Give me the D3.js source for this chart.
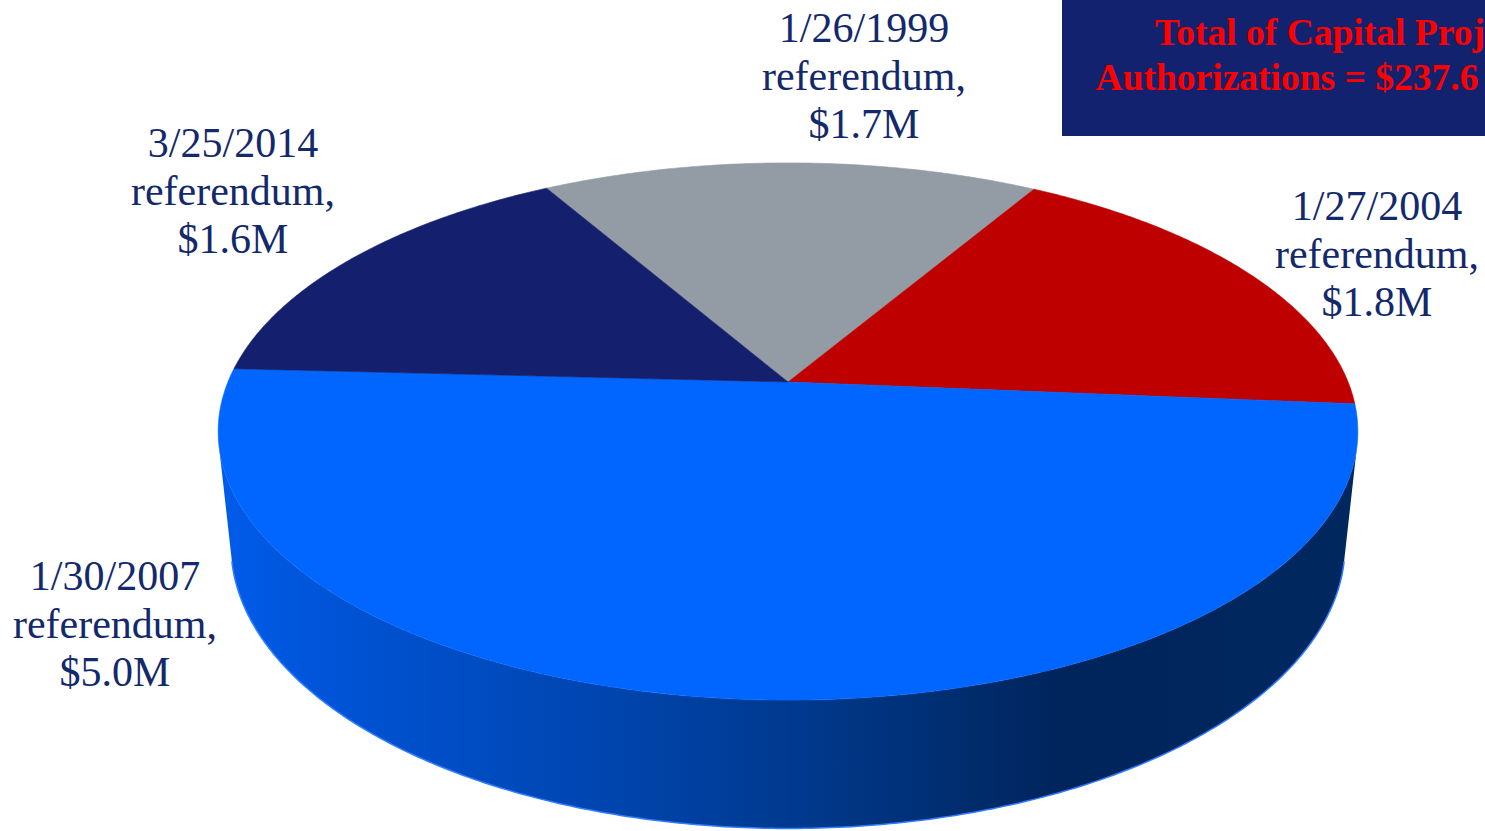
<!DOCTYPE html>
<html>
<head>
<meta charset="utf-8">
<script src="https://cdn.jsdelivr.net/npm/d3@7/dist/d3.min.js"></script>
<style>
html,body{margin:0;padding:0;background:#fff;overflow:hidden;}
svg{display:block;}
</style>
</head>
<body>
<svg id="chart" width="1485" height="831"></svg>
<script>
// ---- data ----
const categories = ["1/26/1999 referendum", "1/27/2004 referendum", "1/30/2007 referendum", "3/25/2014 referendum"];
const labelDates = ["1/26/1999", "1/27/2004", "1/30/2007", "3/25/2014"];
const values = [1.7, 1.8, 5.0, 1.6];
const valueLabels = ["$1.7M", "$1.8M", "$5.0M", "$1.6M"];
const titleLines = ["Total of Capital Projects", "Authorizations = $237.6 Million"];

// ---- styles / layout ----
const topColors = ["#939CA4", "#BE0000", "#0066FF", "#14206E"];
const sideColors = ["#6E767E", "#8A0000", "url(#blueSide)", "#0C154E"];
const labelColor = "#13296B";
const labelPos = [ {x:864, y:42}, {x:1377, y:220}, {x:115, y:590}, {x:233, y:157} ];

const svg = d3.select("#chart");
const W = 1485, H = 831;

// perspective camera
const cx = 788, cy = 382;
const alpha = 27.6 * Math.PI / 180;
const sA = Math.sin(alpha), cA = Math.cos(alpha);
const D = 4.81, F = 2694, thick = 0.231;
function proj(theta, h) {
  const x = Math.sin(theta), y = Math.cos(theta);
  const depth = y * cA - h * sA + D;
  const up = y * sA + h * cA;
  return [cx + F * x / depth, cy - F * up / depth];
}

const defs = svg.append("defs");
const grad = defs.append("linearGradient").attr("id", "blueSide")
  .attr("gradientUnits", "userSpaceOnUse").attr("x1", 218).attr("x2", 1360).attr("y1", 0).attr("y2", 0);
[[0, "#005CEA"], [0.12, "#0052D2"], [0.32, "#0046B2"], [0.5, "#003A90"], [0.66, "#002C6C"], [0.74, "#00245C"], [1, "#00285F"]]
  .forEach(s => grad.append("stop").attr("offset", s[0]).attr("stop-color", s[1]));

const startAngle = -30 * Math.PI / 180;
const pie = d3.pie().sort(null).value(d => d).startAngle(startAngle).endAngle(startAngle + 2 * Math.PI);
const arcs = pie(values);

// visible wall range
const visA = Math.acos(-1 / (D * cA));
const visB = 2 * Math.PI - visA;

function sample(a0, a1, h) {
  const n = Math.max(2, Math.ceil(Math.abs(a1 - a0) / 0.01));
  const pts = [];
  for (let i = 0; i <= n; i++) pts.push(proj(a0 + (a1 - a0) * i / n, h));
  return pts;
}

// walls
const wallG = svg.append("g");
arcs.forEach((a, i) => {
  [0, 2 * Math.PI, -2 * Math.PI].forEach(off => {
    const a0 = Math.max(a.startAngle + off, visA);
    const a1 = Math.min(a.endAngle + off, visB);
    if (a1 > a0) {
      const topPts = sample(a0, a1, 0);
      const botPts = sample(a1, a0, -thick);
      wallG.append("path")
        .attr("d", "M" + topPts.concat(botPts).map(p => p.join(",")).join("L") + "Z")
        .attr("fill", sideColors[i]);
      wallG.append("path")
        .attr("d", "M" + sample(a0, a1, -thick).map(p => p.join(",")).join("L"))
        .attr("fill", "none").attr("stroke", "#2F7CFF").attr("stroke-width", 1.5);
    }
  });
});

// top faces
const topG = svg.append("g");
arcs.forEach((a, i) => {
  const pts = [[cx, cy]].concat(sample(a.startAngle, a.endAngle, 0));
  topG.append("path")
    .attr("d", "M" + pts.map(p => p.join(",")).join("L") + "Z")
    .attr("fill", topColors[i])
    .attr("stroke", topColors[i]).attr("stroke-width", 0.6);
});

// labels
const lab = svg.append("g")
  .attr("font-family", "'Liberation Serif', 'Times New Roman', serif")
  .attr("font-size", 42).attr("fill", labelColor).attr("text-anchor", "middle");
categories.forEach((c, i) => {
  const t = lab.append("text").attr("x", labelPos[i].x).attr("y", labelPos[i].y);
  [labelDates[i], "referendum,", valueLabels[i]].forEach((s, j) => {
    t.append("tspan").attr("x", labelPos[i].x).attr("dy", j === 0 ? 0 : 48).text(s);
  });
});

// title box
svg.append("rect").attr("x", 1062).attr("y", 0).attr("width", W - 1062).attr("height", 136).attr("fill", "#13226F");
const tt = svg.append("text")
  .attr("font-family", "'Liberation Serif', 'Times New Roman', serif")
  .attr("font-size", 37.5).attr("font-weight", "bold").attr("fill", "#FF0000")
  .attr("text-anchor", "middle");
titleLines.forEach((s, j) => {
  tt.append("tspan").attr("x", 1350).attr("y", 45 + j * 45).text(s);
});
</script>
</body>
</html>
